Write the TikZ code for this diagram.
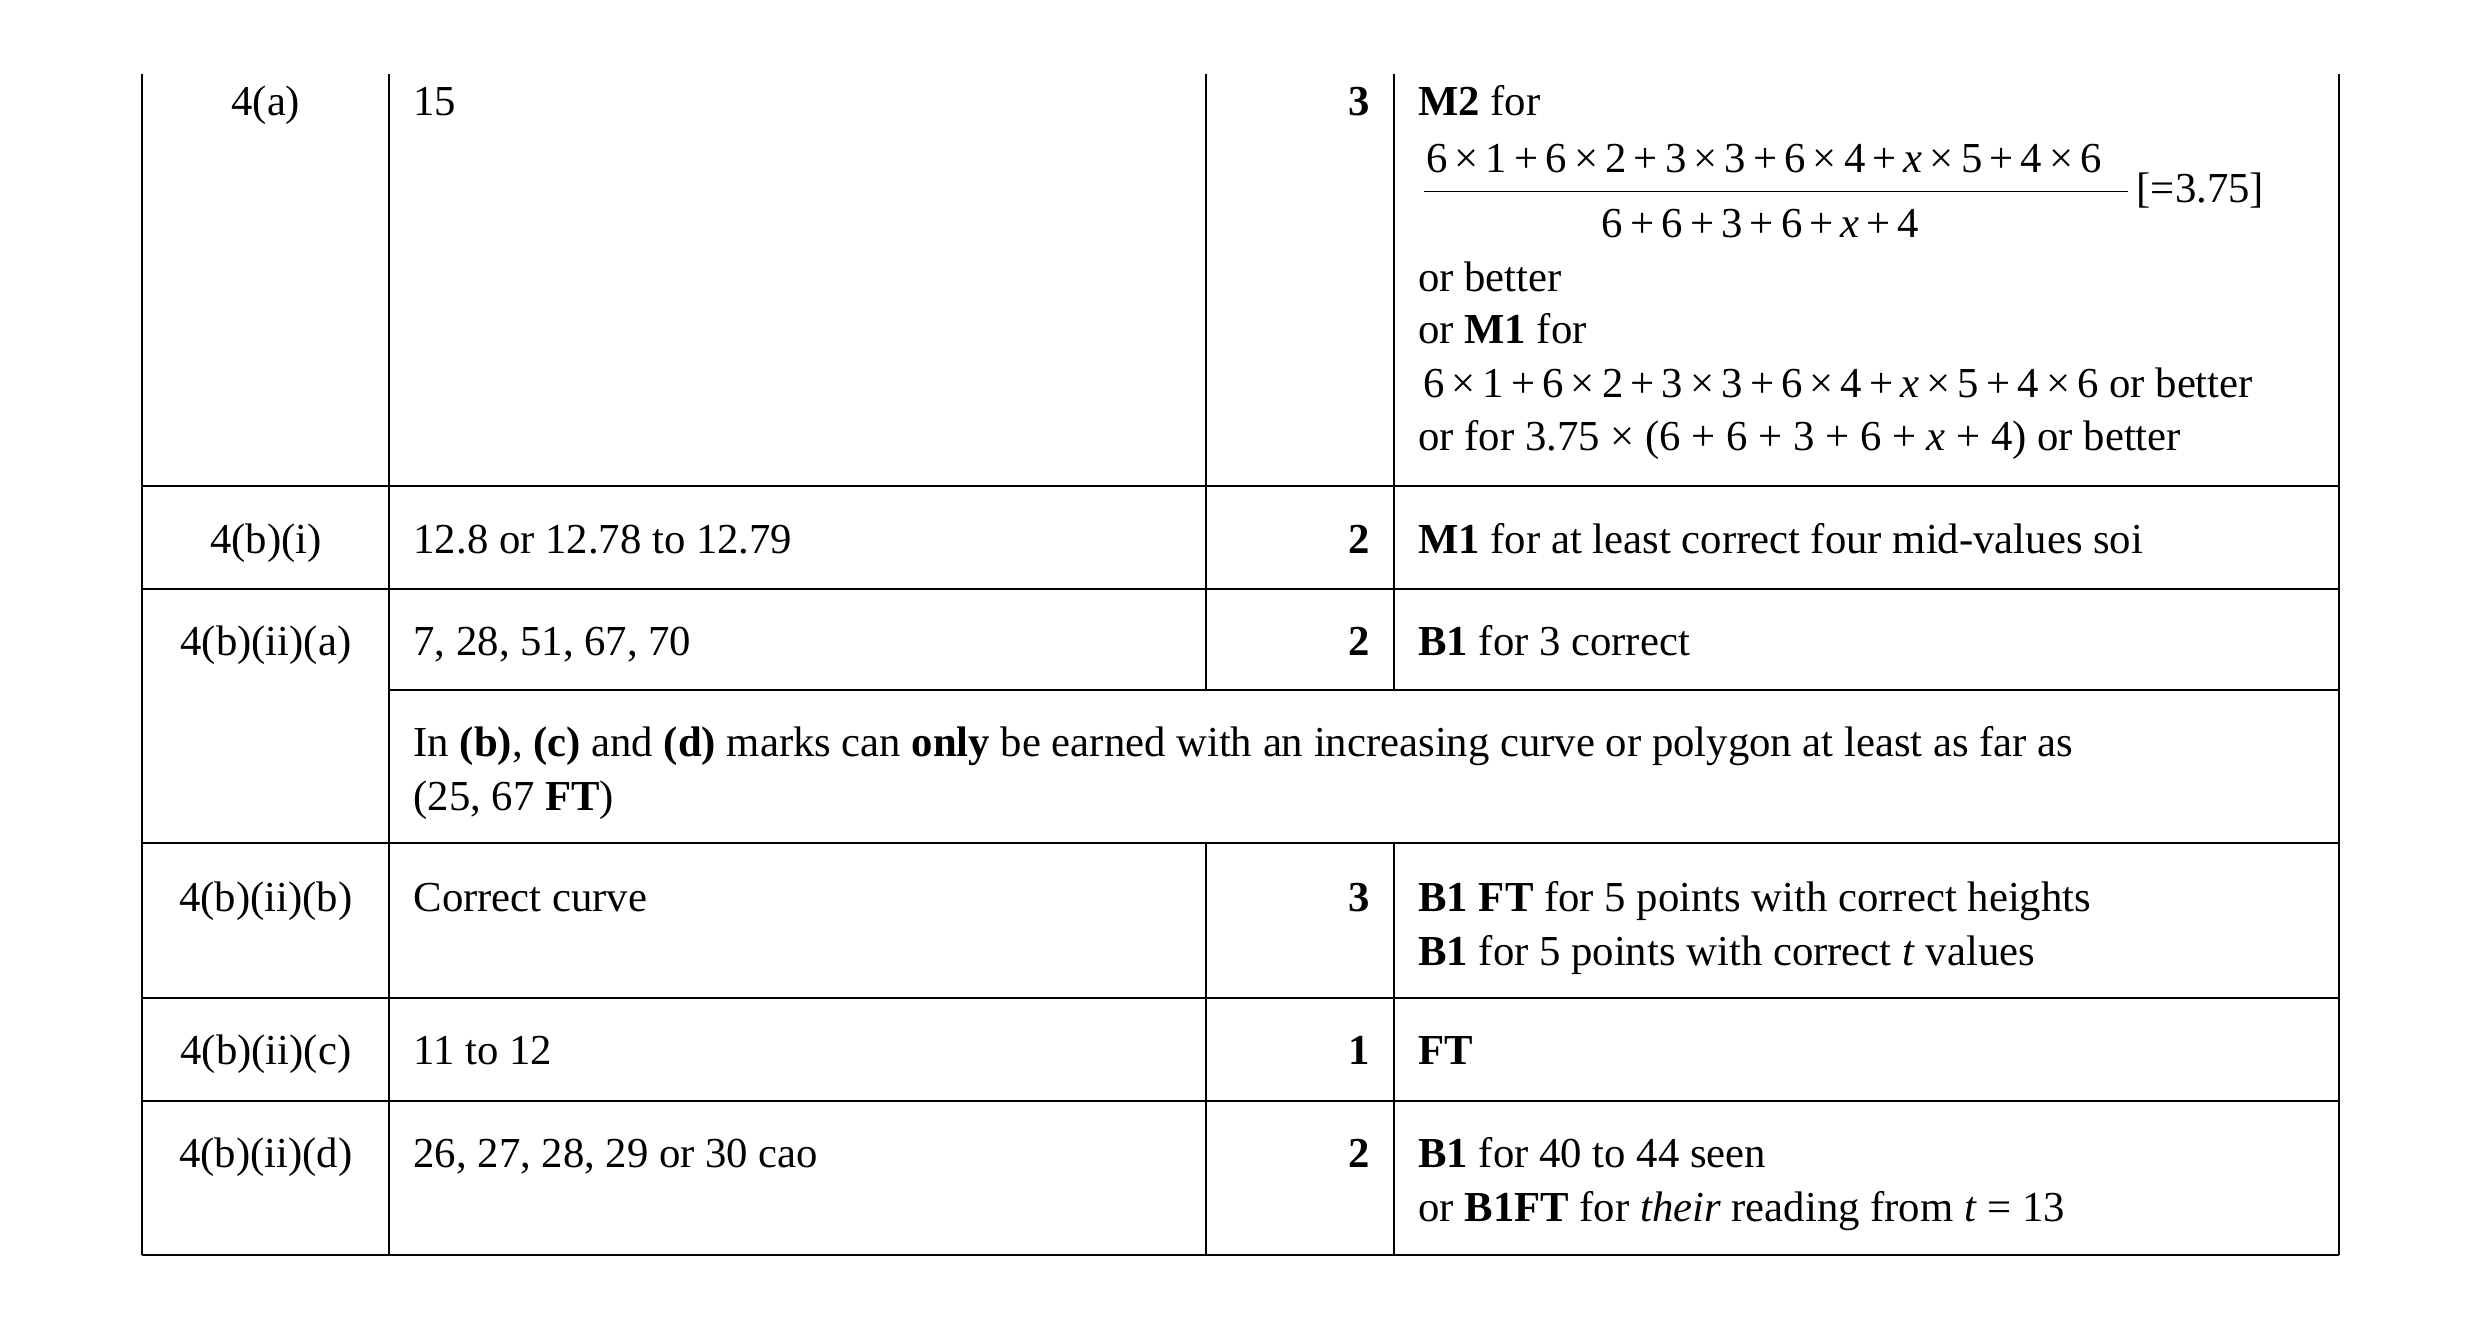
\documentclass[tikz,border=0pt]{standalone}
\usepackage{fontspec}
\setmainfont{Liberation Serif}
\begin{document}
\begin{tikzpicture}[x=0.5pt,y=-0.5pt,
  t/.style={anchor=base west,inner sep=0pt,font=\fontsize{13.5}{16}\selectfont},
  c/.style={anchor=base,inner sep=0pt,font=\fontsize{13.5}{16}\selectfont},
  m/.style={anchor=base east,inner sep=0pt,font=\fontsize{13.5}{16}\bfseries\selectfont},
  g/.style={line width=0.6pt}]
\useasboundingbox (0,0) rectangle (1568,842);
\newcommand{\tx}{\,×\,}\newcommand{\tp}{\,+\,}
% grid
\draw[g] (90,47)--(90,793) (1478,47)--(1478,793) (246,47)--(246,793);
\draw[g] (762,47)--(762,436) (881,47)--(881,436) (762,533)--(762,793) (881,533)--(881,793);
\draw[g] (90,307)--(1478,307) (90,372)--(1478,372) (246,436)--(1478,436)
  (90,533)--(1478,533) (90,631)--(1478,631) (90,696)--(1478,696) (90,793)--(1478,793);
% row 4(a)
\node[c] (q1) at (168,73) {4(a)};
\node[t] (a1) at (261,73) {15};
\node[m] (k1) at (866,73) {3};
\node[t] (n1) at (896,73) {\textbf{M2} for};
\node[t] (n2) at (901,109) {6\tx1\tp6\tx2\tp3\tx3\tp6\tx4\tp\textit{x}\tx5\tp4\tx6};
\draw[g] (900,121)--(1345,121);
\node[t] (n3) at (1012,150) {6\tp6\tp3\tp6\tp\textit{x}\tp4};
\node[t] (n4) at (1350,128) {[=3.75]};
\node[t] (n5) at (896,184) {or better};
\node[t] (n6) at (896,217) {or \textbf{M1} for};
\node[t] (n7) at (899,251) {6\tx1\tp6\tx2\tp3\tx3\tp6\tx4\tp\textit{x}\tx5\tp4\tx6 or better};
\node[t] (n8) at (896,285) {or for 3.75 × (6 + 6 + 3 + 6 + \textit{x} + 4) or better};
% row b(i)
\node[c] (q2) at (168,350) {4(b)(i)};
\node[t] (a2) at (261,350) {12.8 or 12.78 to 12.79};
\node[m] (k2) at (866,350) {2};
\node[t] (n9) at (896,350) {\textbf{M1} for at least correct four mid-values soi};
% row ii a
\node[c] (q3) at (168,414) {4(b)(ii)(a)};
\node[t] (a3) at (261,414) {7, 28, 51, 67, 70};
\node[m] (k3) at (866,414) {2};
\node[t] (n10) at (896,414) {\textbf{B1} for 3 correct};
\node[t] (nt1) at (261,478) {In \textbf{(b)}, \textbf{(c)} and \textbf{(d)} marks can \textbf{only} be earned with an increasing curve or polygon at least as far as};
\node[t] (nt2) at (261,512) {(25, 67 \textbf{FT})};
% row ii b
\node[c] (q4) at (168,576) {4(b)(ii)(b)};
\node[t] (a4) at (261,576) {Correct curve};
\node[m] (k4) at (866,576) {3};
\node[t] (n11) at (896,576) {\textbf{B1 FT} for 5 points with correct heights};
\node[t] (n12) at (896,610) {\textbf{B1} for 5 points with correct \textit{t} values};
% row ii c
\node[c] (q5) at (168,673) {4(b)(ii)(c)};
\node[t] (a5) at (261,673) {11 to 12};
\node[m] (k5) at (866,673) {1};
\node[t] (n13) at (896,673) {\textbf{FT}};
% row ii d
\node[c] (q6) at (168,738) {4(b)(ii)(d)};
\node[t] (a6) at (261,738) {26, 27, 28, 29 or 30 cao};
\node[m] (k6) at (866,738) {2};
\node[t] (n14) at (896,738) {\textbf{B1} for 40 to 44 seen};
\node[t] (n15) at (896,772) {or \textbf{B1FT} for \textit{their} reading from \textit{t} = 13};
\end{tikzpicture}
\end{document}
